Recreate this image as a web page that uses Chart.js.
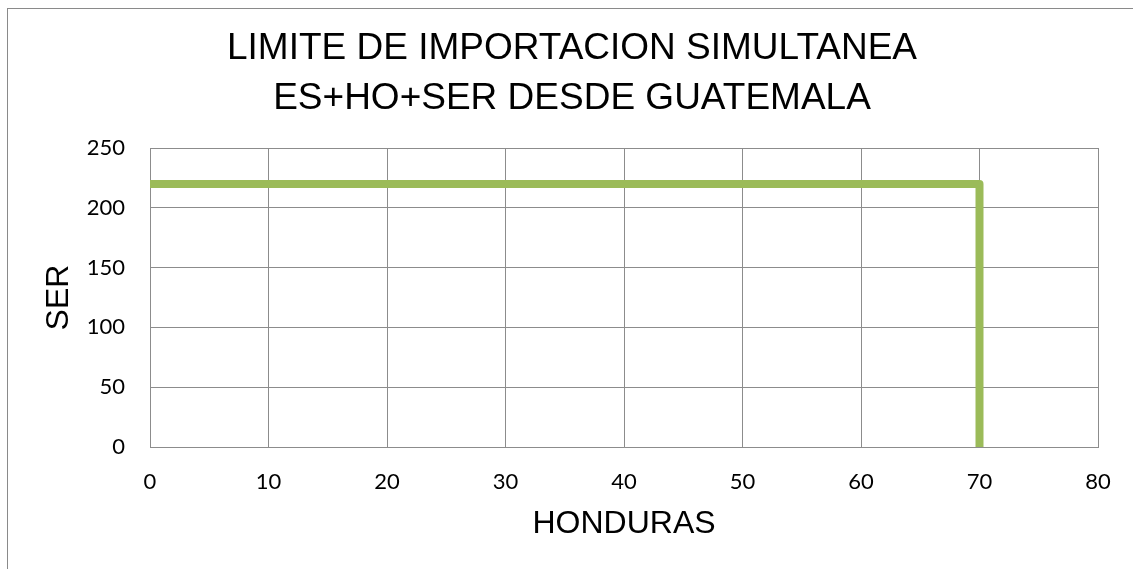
<!DOCTYPE html>
<html>
<head>
<meta charset="utf-8">
<script src="https://cdn.jsdelivr.net/npm/chart.js@4.4.1/dist/chart.umd.min.js"></script>
<style>
    body { margin: 0; background: #ffffff; overflow: hidden; }
    #borde { position: absolute; left: 7px; top: 8px; width: 1200px; height: 620px; border: 1px solid #8a8a8a; pointer-events: none; }
    #grafico { position: absolute; left: 0; top: 0; }
</style>
</head>
<body>
<div id="borde"></div>
<canvas id="grafico" width="1133" height="569"></canvas>
<script>
const honduras = [0, 70, 70]
const ser = [220, 220, 0]
const ticksX = [0, 10, 20, 30, 40, 50, 60, 70, 80]
const ticksY = [0, 50, 100, 150, 200, 250]

const puntos = honduras.map((x, i) => ({ x: x, y: ser[i] }))
const cinza = "#8c8c8c"

Chart.defaults.color = "#000000"

new Chart(document.getElementById("grafico"), {
    type: "scatter",
    data: {
        datasets: [{
            label: "limite",
            data: puntos,
            showLine: true,
            borderColor: "#9bbb59",
            backgroundColor: "#9bbb59",
            borderWidth: 8,
            borderJoinStyle: "round",
            borderCapStyle: "butt",
            pointRadius: 0,
            pointHoverRadius: 0
        }]
    },
    options: {
        responsive: false,
        animation: false,
        layout: { padding: { left: 46, right: 35, top: 0, bottom: 0 } },
        plugins: {
            legend: { display: false },
            tooltip: { enabled: false },
            title: {
                display: true,
                text: ["LIMITE DE IMPORTACION SIMULTANEA", "ES+HO+SER DESDE GUATEMALA"],
                color: "#000000",
                font: { family: "'Liberation Sans', Arial, sans-serif", size: 37, weight: "normal", lineHeight: 50 / 37 },
                padding: { top: 24, bottom: 24 }
            }
        },
        scales: {
            x: {
                type: "linear",
                min: ticksX[0],
                max: ticksX[ticksX.length - 1],
                afterBuildTicks: (s) => { s.ticks = ticksX.map(v => ({ value: v })) },
                afterFit: (s) => { s.height = 122 },
                grid: { color: cinza, lineWidth: 1, drawTicks: false },
                border: { color: cinza, width: 1 },
                ticks: { padding: 22, font: { family: "Lato, sans-serif", size: 22 }, maxRotation: 0 },
                title: {
                    display: true,
                    text: "HONDURAS",
                    font: { family: "'Liberation Sans', Arial, sans-serif", size: 32, lineHeight: 1.2 },
                    padding: { top: 0, bottom: 26 }
                }
            },
            y: {
                type: "linear",
                min: ticksY[0],
                max: ticksY[ticksY.length - 1],
                afterBuildTicks: (s) => { s.ticks = ticksY.map(v => ({ value: v })) },
                afterFit: (s) => { s.width = 104 },
                grid: { color: cinza, lineWidth: 1, drawTicks: false },
                border: { color: cinza, width: 1 },
                ticks: { padding: 25, font: { family: "Lato, sans-serif", size: 22 } },
                title: {
                    display: true,
                    text: "SER",
                    font: { family: "'Liberation Sans', Arial, sans-serif", size: 32, lineHeight: 1 },
                    padding: { top: -2.5, bottom: 0 }
                }
            }
        }
    }
})
</script>
</body>
</html>
